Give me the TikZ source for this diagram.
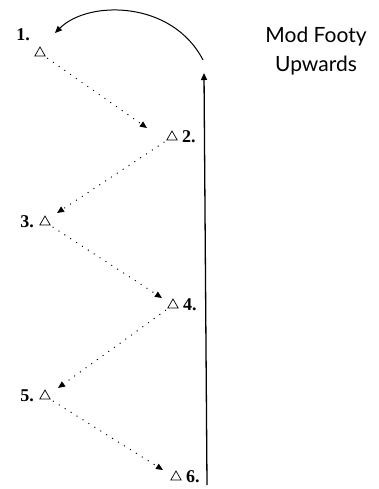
\documentclass[tikz,border=0pt]{standalone}
\usepackage{fontspec}
\setmainfont{Liberation Serif}
\newfontfamily\titlefont{Lato}
\usetikzlibrary{arrows.meta,positioning,shapes.geometric}
\tikzset{
  player/.style={regular polygon, regular polygon sides=3, draw=black, line width=0.7pt,
                 minimum size=12pt, inner sep=0pt},
  num/.style={font=\fontsize{18}{18}\selectfont\bfseries, inner sep=0pt},
  pass/.style={-{Triangle[length=7pt,width=6pt]}, line width=1pt, dash pattern=on 1pt off 6pt},
  run/.style={-{Triangle[length=7pt,width=6pt]}, line width=1.3pt},
  title/.style={font=\titlefont\fontsize{21}{29}\selectfont, align=center},
}
\begin{document}
\begin{tikzpicture}[x=1pt, y=-1pt]
\useasboundingbox (0,0) rectangle (379,489);

% ---- Players ----
\node[player, label={[num, label distance=12pt]130:1.}] (p1) at (40,53) {};
\node[player, label={[num, label distance=6pt]right:2.}] (p2) at (172,137) {};
\node[player, label={[num, label distance=7pt]left:3.}] (p3) at (45,222) {};
\node[player, label={[num, label distance=6pt]right:4.}] (p4) at (173,305) {};
\node[player, label={[num, label distance=7pt]left:5.}] (p5) at (45,396) {};
\node[player, label={[num, label distance=6pt]right:6.}] (p6) at (176,477) {};

% ---- Receiving points ----
\coordinate (r1) at (55,33);
\coordinate (r2) at (147,128);
\coordinate (r3) at (57,213);
\coordinate (r4) at (162,298);
\coordinate (r5) at (58,388);
\coordinate (r6) at (163,470);

% ---- Runner ----
\coordinate (runstart) at (207,485);
\coordinate (runend) at (204,73);
\coordinate (arcstart) at (203,60);

% ---- Title ----
\node[title] (title) at (316,51) {Mod Footy\\Upwards};

% ---- Arrows ----
\foreach \a/\b in {p1/r2, p2/r3, p3/r4, p4/r5, p5/r6}
  \draw[pass, shorten <=3pt] (\a) -- (\b);
\draw[run] (runstart) -- (runend);
\draw[run, line width=1pt] (arcstart) .. controls (172,0) and (88,0) .. (r1);
\end{tikzpicture}
\end{document}
